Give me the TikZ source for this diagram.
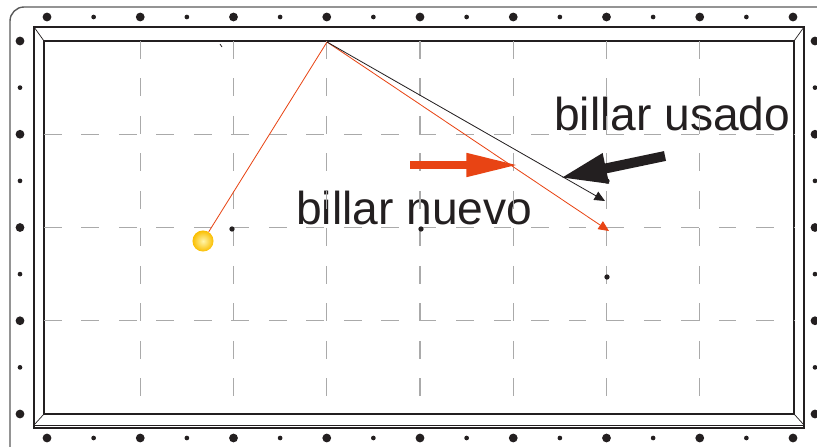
\documentclass[tikz,border=0pt]{standalone}
\usepackage{fontspec}
\setmainfont{Liberation Sans}
\usepackage{tikz}
\usetikzlibrary{arrows.meta, positioning}
\definecolor{billred}{RGB}{232,68,20}
\definecolor{inkblack}{RGB}{35,31,32}
\definecolor{gridgray}{RGB}{170,170,170}
\definecolor{framegray}{RGB}{90,90,90}
\definecolor{ballyellow}{RGB}{250,190,0}
\definecolor{balllight}{RGB}{255,245,170}
\tikzstyle{gridline} = [draw=gridgray, line width=1.1pt, dash pattern=on 15pt off 17pt]
\tikzstyle{shot} = [line width=0.7pt, -{Triangle[length=9pt,width=8pt]}]
\tikzstyle{tablelabel} = [inner sep=0, anchor=base west, text=inkblack, font=\fontsize{39.4}{46}\selectfont]
\tikzstyle{bigspot} = [circle, fill=inkblack, inner sep=0, minimum size=7.5pt]
\tikzstyle{smallspot} = [circle, fill=inkblack, inner sep=0, minimum size=4pt]

\begin{document}
\begin{tikzpicture}[x=0.03cm, y=-0.03cm]

    \clip (0,0) rectangle (817,446);
    \draw [draw=framegray, line width=1.2pt, rounded corners=12pt] (10,7) rectangle (850,480);

    \draw [inkblack, line width=1pt] (34,27) rectangle (804,428);
    \draw [inkblack, line width=0.5pt] (34,425) -- (804,425);
    \draw [inkblack, line width=1.3pt] (44,41) rectangle (794,414);
    \draw [inkblack, line width=0.6pt] (34,27) -- (44,41) (804,27) -- (794,41) (34,425) -- (44,414) (804,425) -- (794,414);

    \node (usado) [tablelabel] at (554,130) {billar usado};
    \node (nuevo) [tablelabel] at (296,224) {billar nuevo};

    \foreach \k in {2,4,...,14}
        \draw [gridline] ({47+46.625*\k},41) -- ({47+46.625*\k},414);
    \foreach \k in {2,4,6}
        \draw [gridline] (44,{41+46.625*\k}) -- (794,{41+46.625*\k});

    \foreach \k in {0,2,...,16} {
        \node (top\k) [bigspot] at ({47+46.625*\k},17) {};
        \node (bot\k) [bigspot] at ({47+46.625*\k},438) {};
    }
    \foreach \k in {1,3,...,15} {
        \node (top\k) [smallspot] at ({47+46.625*\k},17) {};
        \node (bot\k) [smallspot] at ({47+46.625*\k},438) {};
    }
    \foreach \k in {0,2,...,8} {
        \node (left\k) [bigspot] at (20,{41+46.625*\k}) {};
        \node (right\k) [bigspot] at (815,{41+46.625*\k}) {};
    }
    \foreach \k in {1,3,...,7} {
        \node (left\k) [smallspot] at (20,{41+46.625*\k}) {};
        \node (right\k) [smallspot] at (815,{41+46.625*\k}) {};
    }

    \node (markA) [smallspot, minimum size=4.5pt] at (232,229) {};
    \node (markB) [smallspot, minimum size=4.5pt] at (421,229) {};
    \node (markC) [smallspot, minimum size=4.5pt] at (607,181) {};
    \node (markD) [smallspot, minimum size=4.5pt] at (607,277) {};
    \draw [inkblack, line width=0.6pt] (220,44) -- (222,47);

    \node (ball) [circle, inner sep=0, minimum size=18pt, shading=radial, inner color=balllight, outer color=ballyellow] at (203,241) {};
    \coordinate (apex) at (327,42);
    \coordinate (endnew) at (609,231);
    \coordinate (endused) at (605,201);

    \draw [billred, line width=0.7pt] (ball) -- (apex);
    \draw [shot, billred] (apex) -- (endnew);
    \draw [shot, inkblack] (apex) -- (endused);

    \coordinate (newtail) at (410,165);
    \coordinate (newtip) at (518,165);
    \coordinate (usedtail) at (665,156);
    \coordinate (usedtip) at (560,178);

    \draw [billred, line width=6pt, -{Triangle[length=44pt,width=19pt]}] (newtail) -- (newtip);
    \draw [inkblack, line width=8.5pt, -{Triangle[length=40pt,width=24pt]}] (usedtail) -- (usedtip);

\end{tikzpicture}
\end{document}
